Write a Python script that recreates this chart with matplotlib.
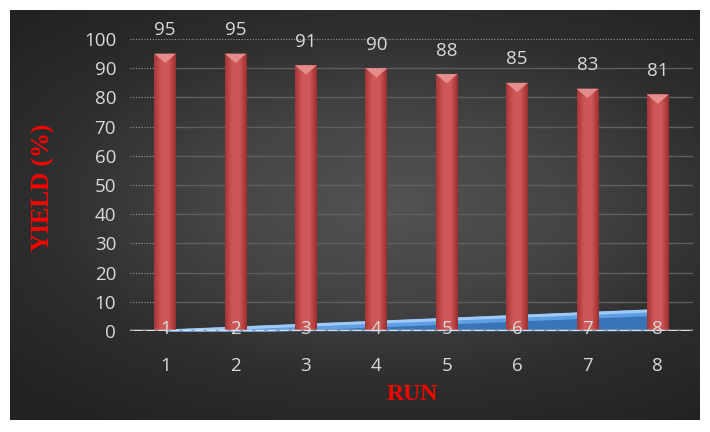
import matplotlib.pyplot as plt
import numpy as np
from matplotlib.patches import Polygon
from matplotlib.colors import LinearSegmentedColormap

runs = [1, 2, 3, 4, 5, 6, 7, 8]
yields = [95, 95, 91, 90, 88, 85, 83, 81]
yticks = [0, 10, 20, 30, 40, 50, 60, 70, 80, 90, 100]

txt = '#d9d9d9'
plt.rcParams['font.family'] = ['Open Sans', 'DejaVu Sans']

fig = plt.figure(figsize=(7.1, 4.32), dpi=100)
fig.patch.set_facecolor('white')

# dark panel with a soft radial gradient (lighter towards the middle)
bg = fig.add_axes([10/710, 12/432, 690/710, 410/432])
yy, xx = np.mgrid[-1:1:200j, -1:1:300j]
r = np.sqrt(((xx - 0.1) * 0.85) ** 2 + ((yy + 0.05) * 1.0) ** 2)
bgmap = LinearSegmentedColormap.from_list('bg', ['#535353', '#454545', '#2e2e2e', '#222222'])
bg.imshow(r, cmap=bgmap, vmin=0, vmax=1.3, aspect='auto', extent=[0, 1, 0, 1])
bg.set_axis_off()

ax = fig.add_axes([130/710, 101/432, 563/710, 292/432])
ax.set_facecolor('none')

# gridlines: solid in plot, dotted stubs at left
for v in yticks[1:-1]:
    ax.axhline(v, xmin=0.04, color='#5f5f5f', lw=1.0, zorder=1)
    ax.axhline(v, xmin=0, xmax=0.04, color='#9a9a9a', lw=0.8, ls=(0, (1, 1.5)), zorder=1)
ax.axhline(100, color='#9a9a9a', lw=0.8, ls=(0, (1, 1.5)), zorder=1)

# blue ribbon for run values
x = np.array(runs, dtype=float)
yr = np.array(runs, dtype=float) - 0.4
ax.fill_between(x, 0, yr, color='#3a74b8', zorder=2, lw=0)
ax.fill_between(x, yr - 2.2, yr, where=None, color='#5e9fe4', zorder=2, lw=0)
ax.plot(x, yr - 0.6, color='#9fcaf8', lw=2.2, zorder=2)

# red bars with cylinder-like shading
w = 0.31
grad = np.linspace(0, 1, 50)
cm = LinearSegmentedColormap.from_list('bar', ['#a63636', '#d05656', '#cf5858', '#9c2e2e'])
for xi, yi in zip(runs, yields):
    bars = ax.bar(xi, yi, width=w, color='#c94a4a', zorder=3, lw=0)
    im = ax.imshow(grad[None, :], cmap=cm, vmin=0, vmax=1, aspect='auto',
                   extent=[xi - w/2, xi + w/2, 0, yi], zorder=3)
    im.set_clip_path(bars[0])
    cap = Polygon([[xi - w/2, yi], [xi + w/2, yi], [xi, yi - 3.2]], closed=True,
                  color='#e58d8d', zorder=4, lw=0)
    ax.add_patch(cap)
    ax.text(xi, yi + 8, str(yi), ha='center', va='center', color=txt, fontsize=13.5, zorder=5)
    ax.text(xi, 0.8, str(xi), ha='center', va='center', color=txt, fontsize=13.5, zorder=5)

ax.set_xlim(0.5, 8.5)
ax.set_ylim(0, 100)

# x axis line
ax.axhline(0, color='#e0e0e0', lw=2.5, zorder=4)
ax.axhline(0, color='#999999', lw=2.5, ls=(0, (1, 2.5)), zorder=4)

ax.set_xticks(runs)
ax.set_xticklabels([str(r_) for r_ in runs])
ax.set_yticks(yticks)
ax.tick_params(colors=txt, labelsize=13.5, length=0)
ax.tick_params(axis='x', pad=19)
ax.tick_params(axis='y', pad=10)
for s in ax.spines.values():
    s.set_visible(False)

fig.text(43/710, 1 - 187/432, 'YIELD (%)', rotation=90, ha='center', va='center',
         color='red', fontsize=18, fontweight='bold', family='Liberation Serif')
fig.text(412/710, 1 - 394/432, 'RUN', ha='center', va='center',
         color='red', fontsize=17, fontweight='bold', family='Liberation Serif')

fig.savefig('out.png', dpi=100)
